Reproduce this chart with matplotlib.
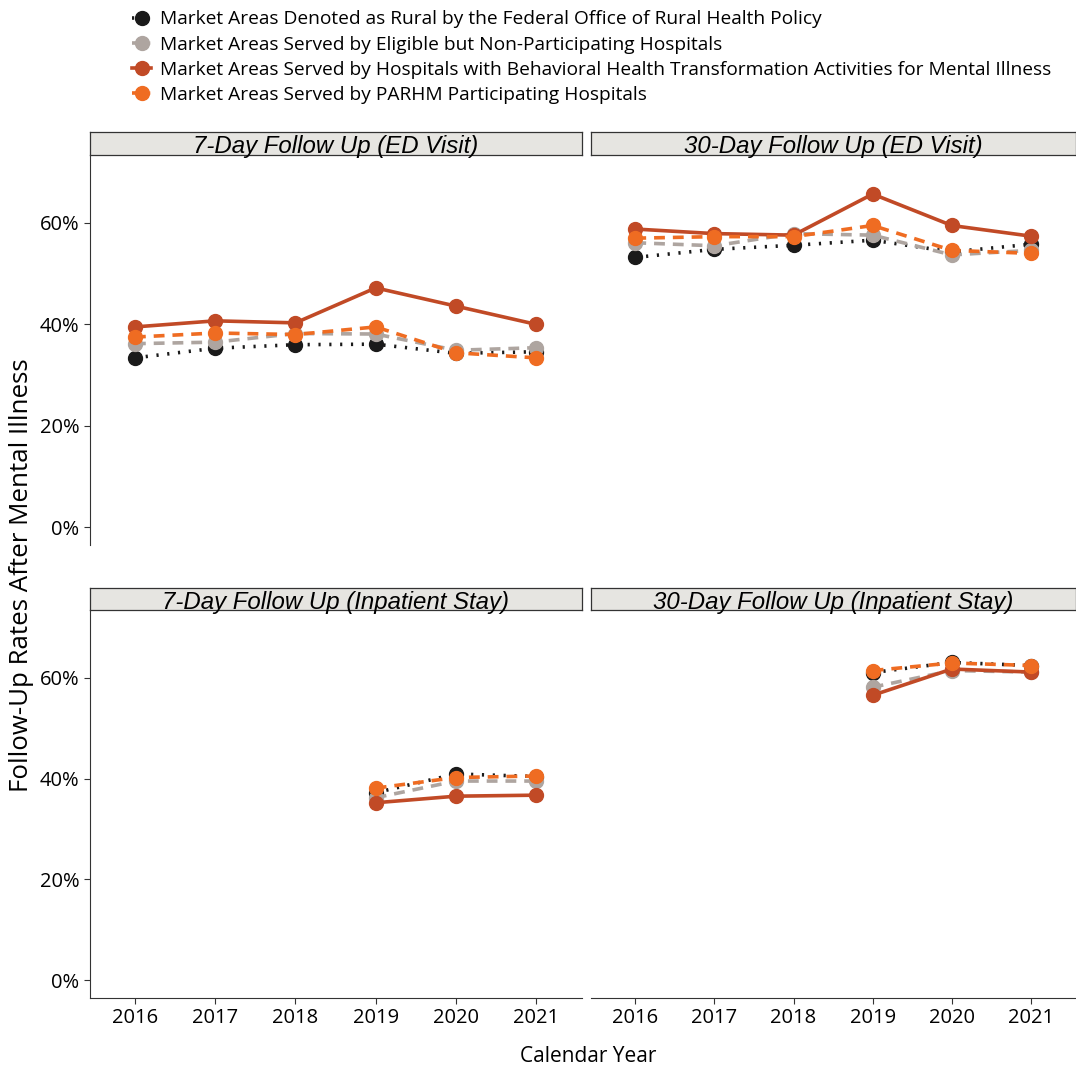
import matplotlib.pyplot as plt
from matplotlib.ticker import FuncFormatter
from matplotlib.lines import Line2D

years = [2016, 2017, 2018, 2019, 2020, 2021]
years_ip = [2019, 2020, 2021]

series = ['Market Areas Denoted as Rural by the Federal Office of Rural Health Policy',
          'Market Areas Served by Eligible but Non-Participating Hospitals',
          'Market Areas Served by Hospitals with Behavioral Health Transformation Activities for Mental Illness',
          'Market Areas Served by PARHM Participating Hospitals']

panels = ['7-Day Follow Up (ED Visit)', '30-Day Follow Up (ED Visit)',
          '7-Day Follow Up (Inpatient Stay)', '30-Day Follow Up (Inpatient Stay)']

# follow-up rates (%), one list per series
ed7_rural = [33.4, 35.3, 36.0, 36.1, 34.3, 34.6]
ed7_elig = [36.2, 36.5, 38.2, 38.1, 34.9, 35.4]
ed7_bh = [39.5, 40.7, 40.3, 47.2, 43.6, 40.0]
ed7_parhm = [37.5, 38.3, 38.0, 39.5, 34.4, 33.4]

ed30_rural = [53.2, 54.8, 55.6, 56.6, 54.3, 55.8]
ed30_elig = [56.1, 55.5, 57.9, 57.6, 53.7, 54.6]
ed30_bh = [58.8, 57.9, 57.6, 65.7, 59.5, 57.4]
ed30_parhm = [57.0, 57.3, 57.3, 59.5, 54.6, 54.0]

ip7_rural = [37.2, 40.9, 40.4]
ip7_elig = [36.2, 39.5, 39.5]
ip7_bh = [35.2, 36.5, 36.7]
ip7_parhm = [38.1, 40.2, 40.5]

ip30_rural = [61.0, 63.0, 62.4]
ip30_elig = [58.1, 61.4, 61.1]
ip30_bh = [56.5, 61.7, 61.1]
ip30_parhm = [61.4, 62.9, 62.4]

colors = ['#1a1a1a', '#aea5a0', '#c14a26', '#ef6c22']
styles = [(0, (0.6, 2.4)), (0, (3, 2.2)), '-', (0, (3, 2.2))]
caps = ['butt', 'butt', 'round', 'butt']

data = [
    (years, [ed7_rural, ed7_elig, ed7_bh, ed7_parhm]),
    (years, [ed30_rural, ed30_elig, ed30_bh, ed30_parhm]),
    (years_ip, [ip7_rural, ip7_elig, ip7_bh, ip7_parhm]),
    (years_ip, [ip30_rural, ip30_elig, ip30_bh, ip30_parhm]),
]

W, H = 1076, 1069
fig = plt.figure(figsize=(W / 100, H / 100), dpi=100)

tick_font = 'Open Sans'
strip_font = 'Liberation Sans'

# pixel boxes (left, top, right, bottom) for plot areas and strips
boxes = [(90, 155, 582, 545), (591, 155, 1076, 545),
         (90, 610, 582, 998), (591, 610, 1076, 998)]
strips = [(90, 132, 582, 155), (591, 132, 1076, 155),
          (90, 588, 582, 610), (591, 588, 1076, 610)]


def px_axes(b):
    l, t, r, bt = b
    return fig.add_axes([l / W, 1 - bt / H, (r - l) / W, (bt - t) / H])


for i, (bx, sb) in enumerate(zip(boxes, strips)):
    ax = px_axes(bx)
    xs, ys = data[i]
    for k in range(4):
        ax.plot(xs, ys[k], color=colors[k], linestyle=styles[k], lw=2.6,
                dash_capstyle=caps[k], marker='o', ms=10, zorder=2 + k,
                clip_on=False)
    ax.set_xlim(2015.44, 2021.57)
    ax.set_ylim(-3.5, 73.4)
    ax.set_yticks([0, 20, 40, 60])
    ax.yaxis.set_major_formatter(FuncFormatter(lambda v, p: f'{v:.0f}%'))
    ax.set_xticks(years)
    for s in ['top', 'right']:
        ax.spines[s].set_visible(False)
    left_col = i % 2 == 0
    bottom_row = i >= 2
    ax.spines['left'].set_visible(left_col)
    ax.spines['bottom'].set_visible(bottom_row)
    ax.spines['left'].set_color('#333333')
    ax.spines['bottom'].set_color('#333333')
    ax.tick_params(axis='y', left=left_col, labelleft=left_col, length=4,
                   labelsize=14.5, colors='#333333', labelcolor='black')
    ax.tick_params(axis='x', bottom=bottom_row, labelbottom=bottom_row, length=4,
                   labelsize=14.5, colors='#333333', labelcolor='black')
    for lab in ax.get_xticklabels() + ax.get_yticklabels():
        lab.set_family(tick_font)

    sax = px_axes(sb)
    sax.set_facecolor('#e6e5e1')
    sax.set_xticks([])
    sax.set_yticks([])
    for s in sax.spines.values():
        s.set_color('#333333')
        s.set_linewidth(0.9)
    sax.text(0.5, 0.36, panels[i], ha='center', va='center', fontsize=17.3,
             style='italic', family=strip_font, transform=sax.transAxes)

fig.text(22 / W, 1 - 575 / H, 'Follow-Up Rates After Mental Illness', rotation=90,
         ha='center', va='center', fontsize=18.6, family=tick_font)
fig.text(588 / W, 1 - 1056 / H, 'Calendar Year', ha='center', va='center',
         fontsize=15, family=tick_font)

handles = [Line2D([], [], color=colors[k], linestyle=styles[k], lw=2.6,
                  marker='o', ms=10) for k in range(4)]
fig.legend(handles, series, loc='upper left', bbox_to_anchor=(115 / W, 1 + 7 / H),
           frameon=False, handlelength=1.0, handletextpad=0.45, labelspacing=0.38,
           prop={'family': tick_font, 'size': 13.8})

fig.savefig('out.png', dpi=100)
